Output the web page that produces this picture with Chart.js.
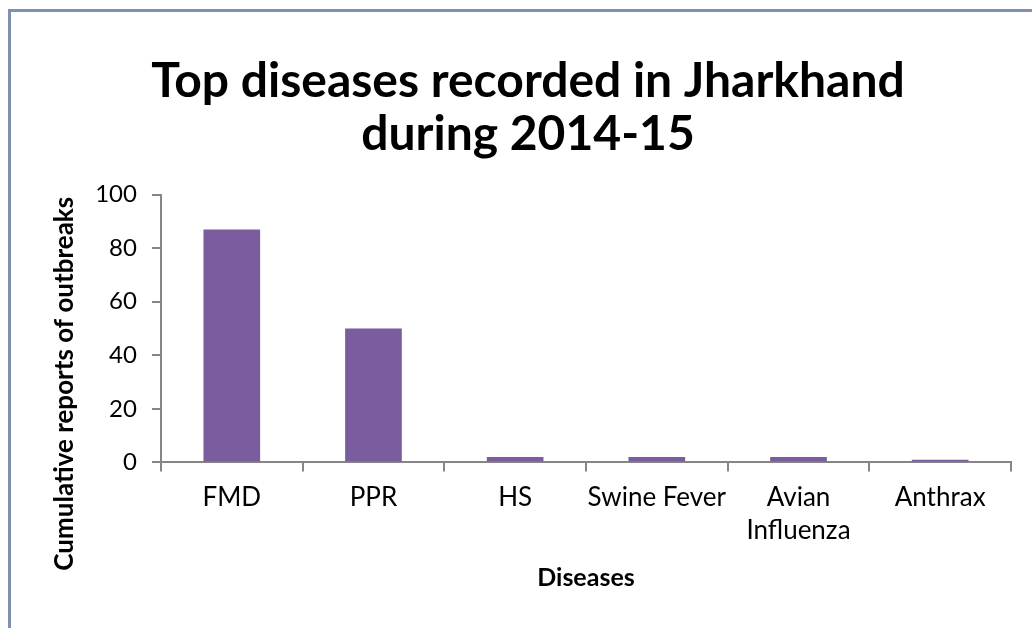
<!DOCTYPE html>
<html>
<head>
<meta charset="utf-8">
<script src="https://cdn.jsdelivr.net/npm/chart.js@4"></script>
<style>
  body { margin: 0; background: #fff; }
  #frame {
    position: absolute; left: 8px; top: 9px; width: 1100px; height: 616px;
    border-top: 3px solid #7d90b0; border-left: 3px solid #7d90b0;
    border-bottom: 1px solid #e4e4e4;
  }
  #grafico { position: absolute; left: 0; top: 0; }
</style>
</head>
<body>
<div id="frame"></div>
<canvas id="grafico" width="1032" height="628"></canvas>
<script>
const categorias = ['FMD', 'PPR', 'HS', 'Swine Fever', ['Avian', 'Influenza'], 'Anthrax'];
const surtos = [87, 50, 2, 2, 2, 1];
const ticksY = [0, 20, 40, 60, 80, 100];

const fonte = 'Lato';
const cinza = '#868686';

// espaços no fim empurram o título do eixo y para baixo, como no original
const tituloY = 'Cumulative reports of outbreaks' + '\u2003\u2003\u2003\u2003\u2003\u2002';

new Chart(document.getElementById('grafico'), {
    type: 'bar',
    data: {
        labels: categorias,
        datasets: [
            {
                data: surtos,
                backgroundColor: '#7b5c9e',
                barPercentage: 0.4,
                categoryPercentage: 1,
            },
        ],
    },
    options: {
        responsive: false,
        animation: false,
        devicePixelRatio: 1,
        layout: { padding: { left: 45, right: 21, top: 22, bottom: 35 } },
        plugins: {
            legend: { display: false },
            tooltip: { enabled: false },
            title: {
                display: true,
                text: ['Top diseases recorded in Jharkhand', 'during 2014-15'],
                color: '#000',
                font: { family: fonte, size: 48, weight: 'bold', lineHeight: 1.1 },
                padding: { top: 33, bottom: 34 },
            },
        },
        scales: {
            x: {
                border: { color: cinza, width: 2 },
                grid: { drawOnChartArea: false, color: cinza, lineWidth: 2, tickLength: 9 },
                ticks: {
                    color: '#000', font: { family: fonte, size: 26, lineHeight: 1.3 },
                    padding: 9, maxRotation: 0, autoSkip: false,
                },
                title: {
                    display: true, text: 'Diseases', color: '#000',
                    font: { family: fonte, size: 25, weight: 'bold' }, padding: { top: 6, bottom: 0 },
                },
            },
            y: {
                min: 0, max: 100,
                afterBuildTicks: (eixo) => { eixo.ticks = ticksY.map((v) => ({ value: v })); },
                border: { color: cinza, width: 2 },
                grid: { drawOnChartArea: false, color: cinza, lineWidth: 2, tickLength: 9 },
                ticks: { color: '#000', font: { family: fonte, size: 24 }, padding: 15 },
                title: {
                    display: true, text: tituloY, color: '#000',
                    font: { family: fonte, size: 26, weight: 'bold' }, padding: { top: 4, bottom: 0 },
                },
            },
        },
    },
});
</script>
</body>
</html>
